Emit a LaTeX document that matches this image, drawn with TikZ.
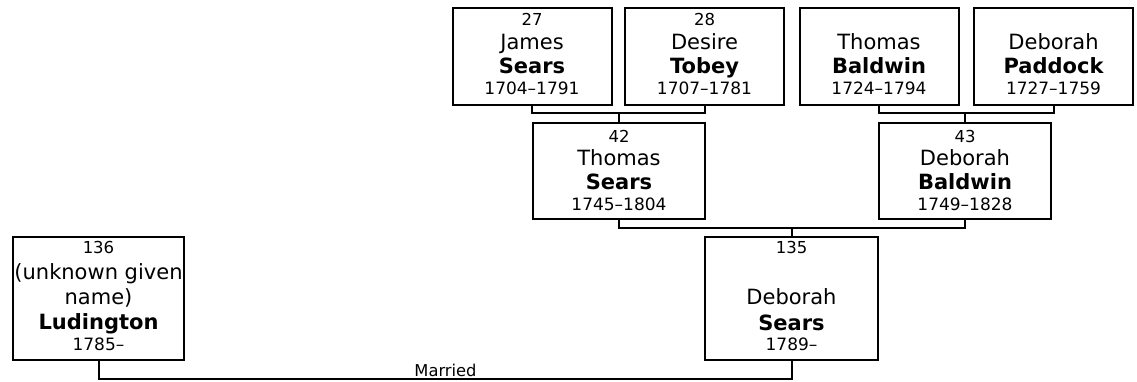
\documentclass[tikz,border=0pt]{standalone}
\usepackage{fontspec}
\setmainfont{DejaVu Sans}
\newcommand\pbox[3]{\parbox[c][#2pt][t]{#1pt}{\centering\lineskiplimit=-100pt\parskip=0pt\relax #3}}
\newcommand\lnum[2]{\fontsize{16.5pt}{18pt}\selectfont\rule{0pt}{#1pt}#2\par}
\newcommand\lgiv[2]{\fontsize{21pt}{#1pt}\selectfont\mdseries #2\par}
\newcommand\lsur[2]{\fontsize{21pt}{#1pt}\selectfont\bfseries #2\par}
\newcommand\ldat[2]{\fontsize{17pt}{#1pt}\selectfont\mdseries #2\par}
\begin{document}
\begin{tikzpicture}[x=1pt,y=-1pt,
  person/.style={draw=black, line width=2pt, inner sep=0pt, outer sep=0pt},
  link/.style={draw=black, line width=2pt},
  lbl/.style={font=\fontsize{16.3pt}{18pt}\selectfont, inner sep=0pt, anchor=base}]
\useasboundingbox (0,0) rectangle (1137,381);

% generation 1
\node[person] (b27) at (532,56.5) {\pbox{159}{97}{\lnum{17.5}{27}\lgiv{24}{James}\lsur{23.5}{Sears}\ldat{21.5}{1704–1791}}};
\node[person] (b28) at (704.5,56.5) {\pbox{159}{97}{\lnum{17.5}{28}\lgiv{24}{Desire}\lsur{23.5}{Tobey}\ldat{21.5}{1707–1781}}};
\node[person] (bTB) at (879,56.5) {\pbox{159}{97}{\lnum{17.5}{}\lgiv{24}{Thomas}\lsur{23.5}{Baldwin}\ldat{21.5}{1724–1794}}};
\node[person] (bDP) at (1053.5,56.5) {\pbox{159}{97}{\lnum{17.5}{}\lgiv{24}{Deborah}\lsur{23.5}{Paddock}\ldat{21.5}{1727–1759}}};

% generation 2
\node[person] (b42) at (619,171) {\pbox{172}{96}{\lnum{19}{42}\lgiv{23.5}{Thomas}\lsur{23.5}{Sears}\ldat{21}{1745–1804}}};
\node[person] (b43) at (965,171) {\pbox{172}{96}{\lnum{19}{43}\lgiv{23.5}{Deborah}\lsur{23.5}{Baldwin}\ldat{21}{1749–1828}}};

% generation 3
\node[person] (b135) at (791.5,298.5) {\pbox{173}{123}{\lnum{16}{135}\lgiv{26}{\mbox{}}\lgiv{25.5}{Deborah}\lsur{25.5}{Sears}\ldat{20.5}{1789–}}};
\node[person] (b136) at (98.5,298.5) {\pbox{171}{123}{\lnum{16}{136}\lgiv{26}{\makebox[0pt]{(unknown given}}\lgiv{25.5}{name)}\lsur{25}{Ludington}\ldat{21}{1785–}}};

% junctions
\coordinate (j1) at (619,113);
\coordinate (j2) at (965,113);
\coordinate (j3) at (792,228);
\coordinate (j4) at (445.5,379);

\draw[link] (b27.south) |- (j1) -| (b28.south);
\draw[link] (j1) -- (j1 |- b42.north);
\draw[link] (bTB.south) |- (j2) -| (bDP.south);
\draw[link] (j2) -- (j2 |- b43.north);
\draw[link] (b42.south) |- (j3) -| (b43.south);
\draw[link] (j3) -- (j3 |- b135.north);
\draw[link] (b136.south) |- (j4) -| (b135.south);
\node[lbl] (married) at (445.5,376) {Married};
\end{tikzpicture}
\end{document}
